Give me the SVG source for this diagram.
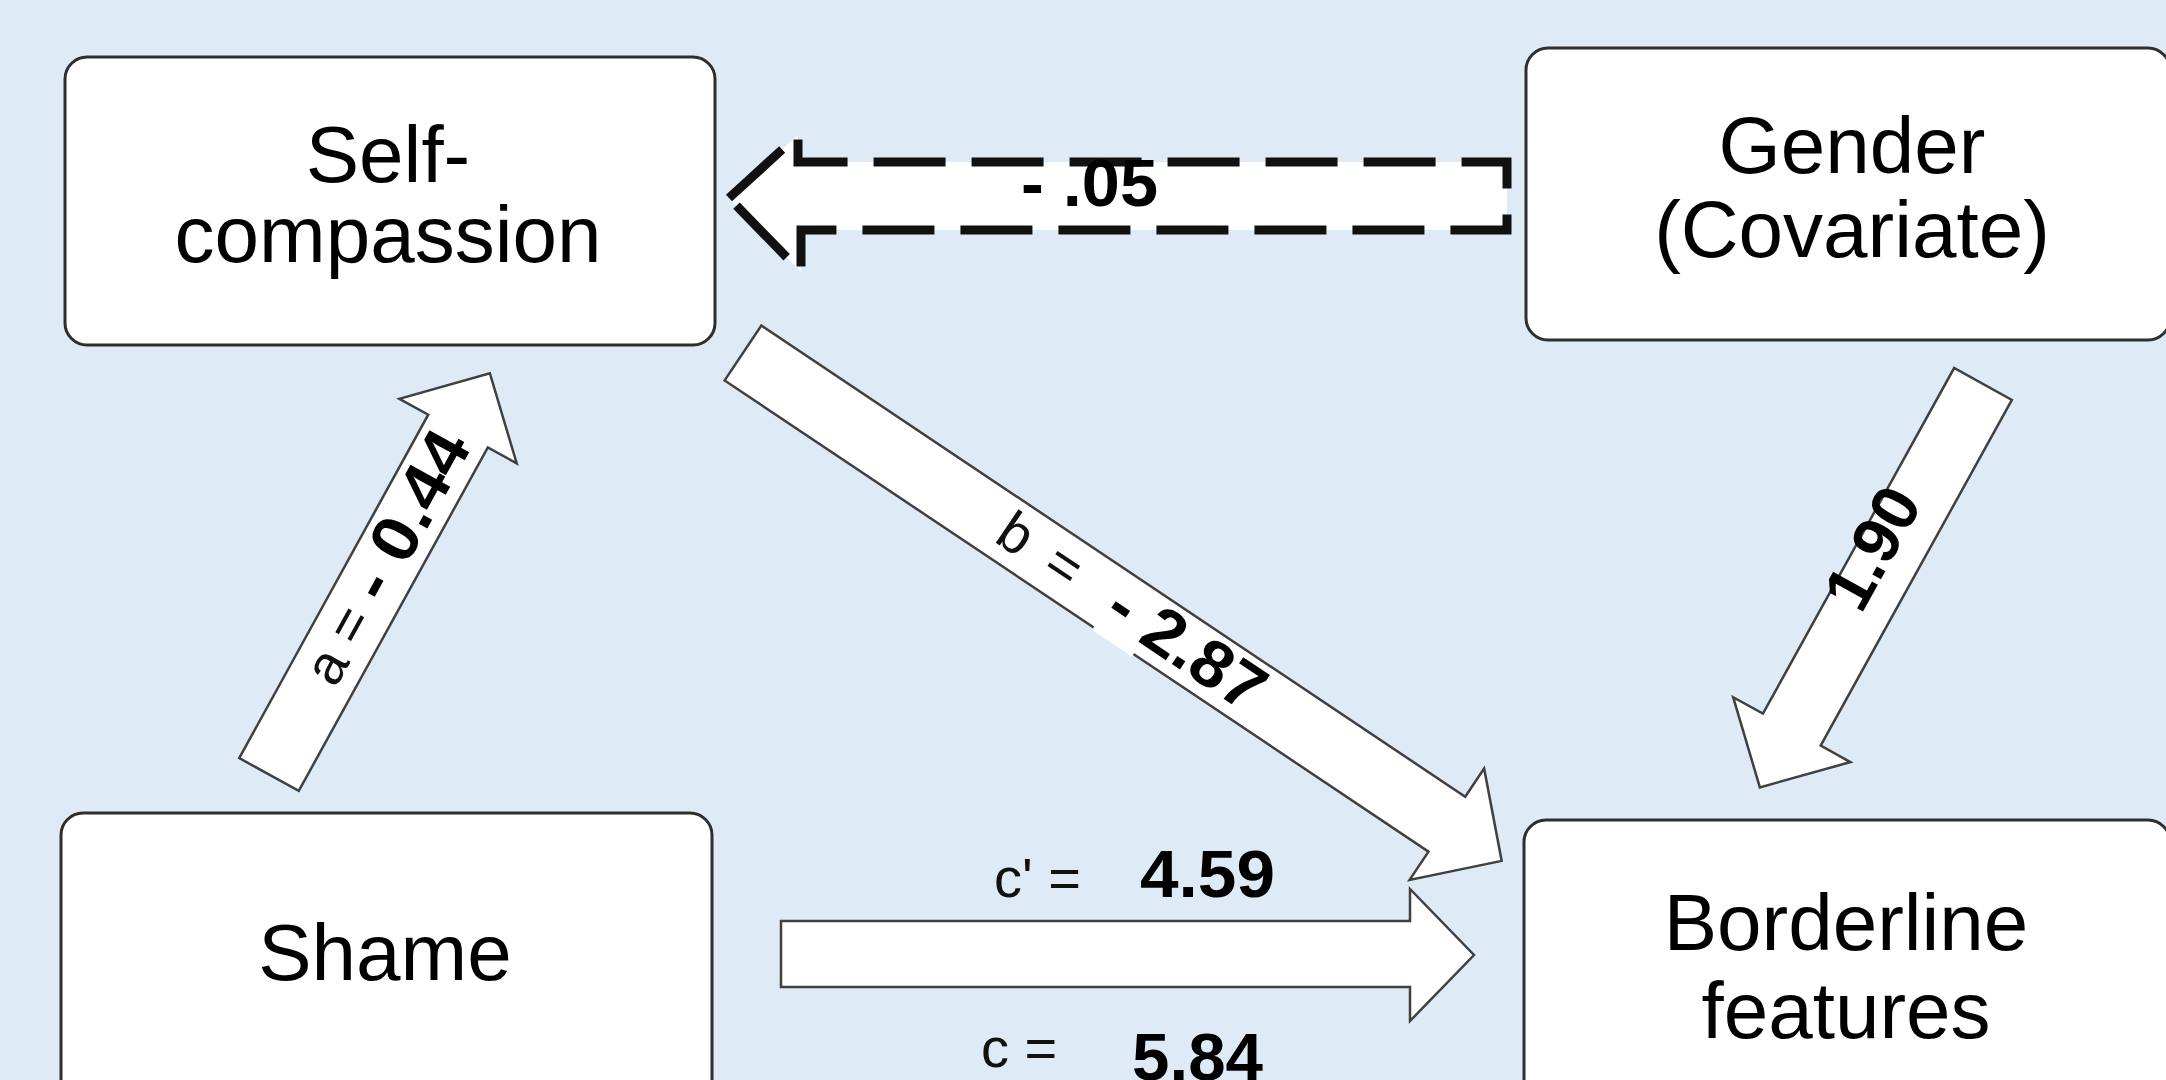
<svg xmlns="http://www.w3.org/2000/svg" width="2166" height="1080" viewBox="0 0 2166 1080">
<style>
.box{fill:#ffffff;stroke:#2e2e2e;stroke-width:3}
.ntext{font-family:"Liberation Sans",Arial,sans-serif;font-size:80px;fill:#000;text-anchor:middle}
.arr{fill:#ffffff;stroke:#404040;stroke-width:2.5;stroke-linejoin:miter}
.dash{fill:#ffffff;stroke:#111;stroke-width:9;stroke-dasharray:72 26;stroke-linejoin:miter}
.reg{font-family:"Liberation Sans",Arial,sans-serif;font-size:56px;fill:#111}
.num{font-family:"Liberation Sans",Arial,sans-serif;font-weight:bold;font-size:66px;fill:#000}
</style>
<rect x="0" y="0" width="2166" height="1080" fill="#DEEBF7"/>
<g id="connectors">
  <g id="edge-gender-self">
    <path class="dash" d="M729,198 L798,135 L798,162 L1507,162 L1507,230 L801,230 L801,272 Z"/>
    <text class="num" x="1021" y="206" textLength="137" lengthAdjust="spacingAndGlyphs">- .05</text>
  </g>
  <g id="edge-shame-self" transform="translate(269,774.5) rotate(-61.17)">
    <polygon class="arr" points="0,-34 392,-34 392,-67 458,0 392,67 392,34 0,34"/>
    <text class="reg" x="107" y="17" font-size="58">a =</text>
    <text class="num" x="204" y="20" textLength="182" lengthAdjust="spacingAndGlyphs">- 0.44</text>
  </g>
  <g id="edge-self-border" transform="translate(743,353) rotate(33.8)">
    <polygon class="arr" points="0,-33 847,-33 847,-67 913,0 847,67 847,33 0,33"/>
    <text class="reg" x="312" y="17" font-size="58">b <tspan dx="10">=</tspan></text>
    <rect x="444" y="16" width="48" height="20" fill="#ffffff"/>
    <text class="num" x="445" y="20" textLength="175" lengthAdjust="spacingAndGlyphs">- 2.87</text>
  </g>
  <g id="edge-gender-border">
    <polygon class="arr" transform="translate(1983,384) rotate(118.95)" points="0,-33 395,-33 395,-67 461,0 395,67 395,33 0,33"/>
    <text class="num" transform="translate(1872,548) rotate(-61.05)" x="0" y="23" text-anchor="middle">1.90</text>
  </g>
  <g id="edge-shame-border">
    <polygon class="arr" points="781,921 1410,921 1410,889 1474,955 1410,1021 1410,987 781,987"/>
    <text class="reg" x="994" y="897">c' =</text>
    <text class="num" x="1140" y="897" textLength="135" lengthAdjust="spacingAndGlyphs">4.59</text>
    <text class="reg" x="981" y="1067" font-size="62">c =</text>
    <text class="num" x="1132" y="1080" textLength="131" lengthAdjust="spacingAndGlyphs">5.84</text>
  </g>
</g>
<g id="node-self-compassion">
  <rect class="box" x="65" y="57" width="650" height="288" rx="22"/>
  <text class="ntext"><tspan x="388" y="182">Self-</tspan><tspan x="388" y="262">compassion</tspan></text>
</g>
<g id="node-gender">
  <rect class="box" x="1526" y="48" width="644" height="292" rx="22"/>
  <text class="ntext"><tspan x="1852" y="173">Gender</tspan><tspan x="1852" y="257">(Covariate)</tspan></text>
</g>
<g id="node-shame">
  <rect class="box" x="61" y="813" width="651" height="300" rx="22"/>
  <text class="ntext" x="385" y="980" font-size="79">Shame</text>
</g>
<g id="node-borderline">
  <rect class="box" x="1524" y="820" width="646" height="300" rx="22"/>
  <text class="ntext" font-size="75"><tspan x="1846" y="950">Borderline</tspan><tspan x="1846" y="1038">features</tspan></text>
</g>
</svg>
